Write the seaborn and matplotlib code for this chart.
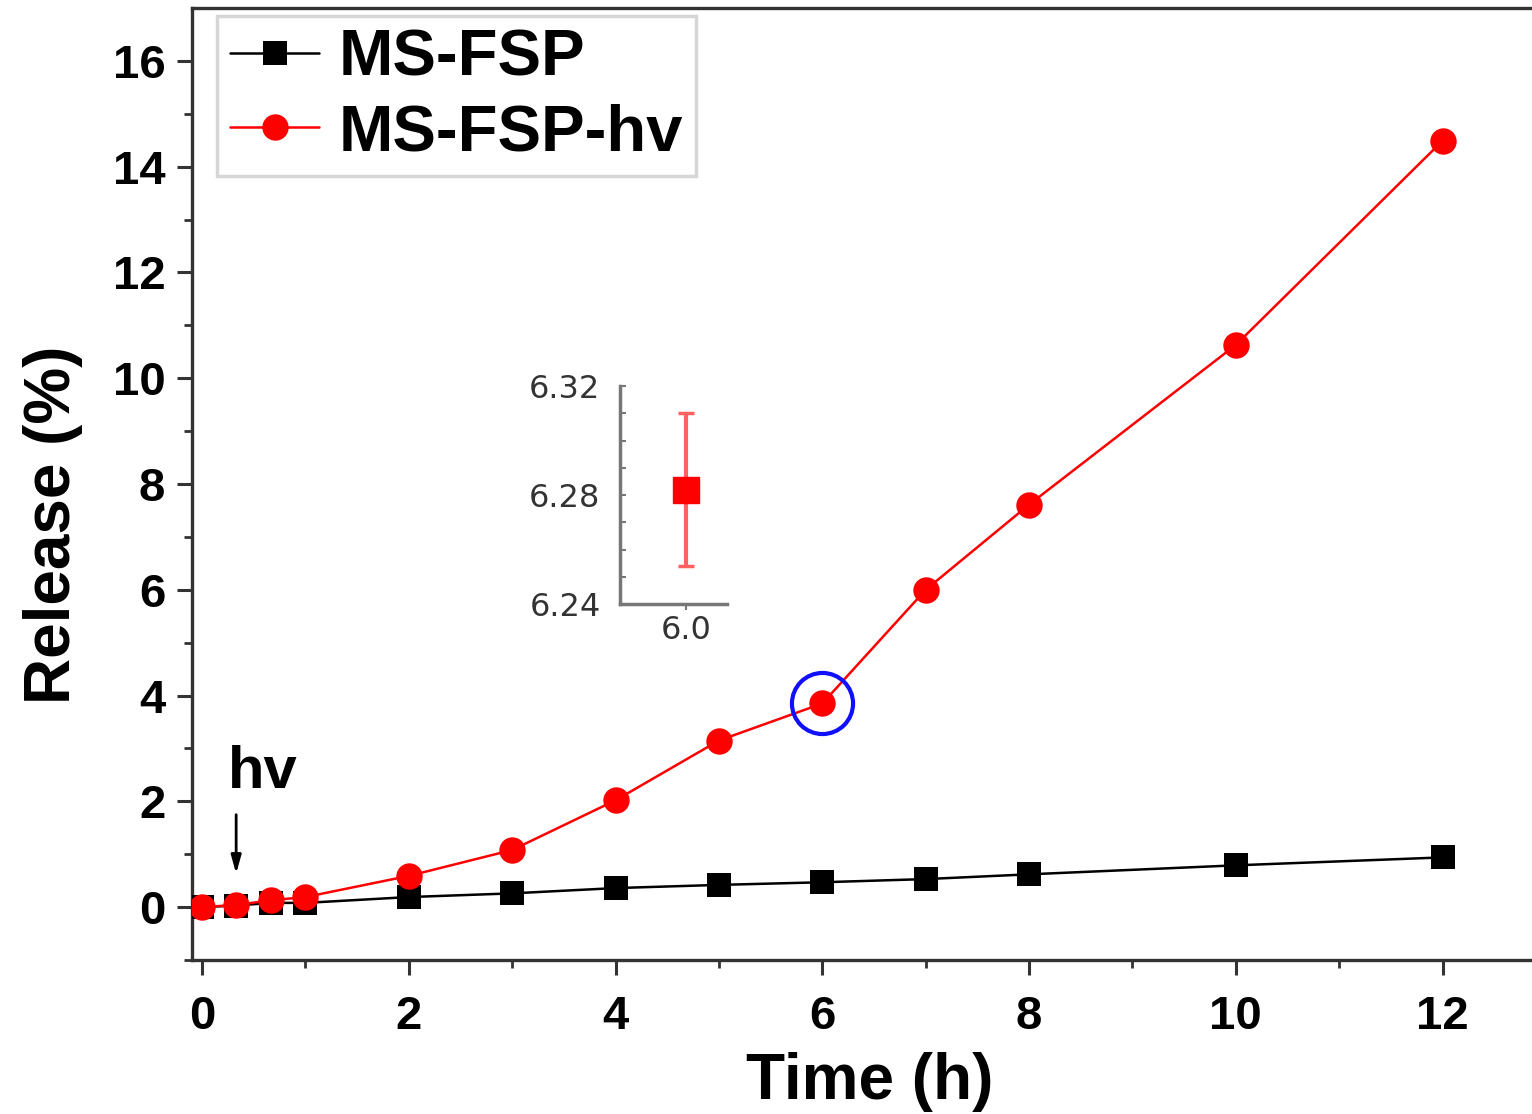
import matplotlib
matplotlib.use("Agg")
import matplotlib.pyplot as plt
import seaborn as sns
import pandas as pd
from matplotlib.ticker import MultipleLocator, FixedLocator

# ---- data ----
time_h = [0, 0.33, 0.67, 1, 2, 3, 4, 5, 6, 7, 8, 10, 12]
ms_fsp = [0.0, 0.03, 0.08, 0.08, 0.19, 0.26, 0.36, 0.42, 0.47, 0.53, 0.62, 0.79, 0.94]
ms_fsp_hv = [0.0, 0.04, 0.13, 0.19, 0.59, 1.08, 2.02, 3.15, 3.85, 6.0, 7.61, 10.63, 14.49]
inset_x = [6.0]
inset_y = [6.282]
inset_err = [0.028]
highlight_x = [6]
highlight_y = [3.85]

sns.set_theme(style="ticks")
plt.rcParams['font.family'] = ['Liberation Sans', 'DejaVu Sans']
plt.rcParams['text.color'] = 'black'
plt.rcParams['axes.labelcolor'] = 'black'

fig = plt.figure(figsize=(15.32, 11.14), dpi=100)
W, H = 1532, 1114
x0, x1 = 191.7, 1546
ax = fig.add_axes([x0 / W, 1 - 960 / H, (x1 - x0) / W, (960 - 8) / H])

df = pd.DataFrame({"t": time_h, "a": ms_fsp, "b": ms_fsp_hv})
sns.lineplot(data=df, x="t", y="a", ax=ax, color="black", marker="s", markersize=17,
             markeredgewidth=0, linewidth=1.8, label="MS-FSP", zorder=3)
sns.lineplot(data=df, x="t", y="b", ax=ax, color="#ff0000", marker="o", markersize=19,
             markeredgewidth=0, linewidth=1.8, label="MS-FSP-hv", zorder=4)
ax.plot(highlight_x, highlight_y, marker="o", markersize=44, mfc="none", mec="#1010ff",
        mew=3, linestyle="none", zorder=5)

ax.set_xlim(-0.1, 13)
ax.set_ylim(-1, 17)
ax.xaxis.set_major_locator(FixedLocator([0, 2, 4, 6, 8, 10, 12]))
ax.xaxis.set_minor_locator(FixedLocator([1, 3, 5, 7, 9, 11]))
ax.yaxis.set_major_locator(FixedLocator([0, 2, 4, 6, 8, 10, 12, 14, 16]))
ax.yaxis.set_minor_locator(FixedLocator([-1, 1, 3, 5, 7, 9, 11, 13, 15]))
ax.tick_params(which="major", direction="out", length=11, width=2.2, color="#333333",
               labelsize=34, labelcolor="black")
ax.tick_params(axis="x", which="major", pad=14)
ax.tick_params(axis="y", which="major", pad=8)
ax.tick_params(which="minor", direction="out", length=6, width=2, color="#333333")
for lab in ax.get_xticklabels() + ax.get_yticklabels():
    lab.set_fontweight("bold")
for s in ["left", "bottom", "top"]:
    ax.spines[s].set_linewidth(2.4)
    ax.spines[s].set_color("#333333")
ax.spines["right"].set_visible(False)

ax.set_xlabel("Time (h)", fontsize=46, fontweight="bold")
ax.set_ylabel("Release (%)", fontsize=46, fontweight="bold")
ax.xaxis.set_label_coords((870 - x0) / (x1 - x0), -0.097)
ax.yaxis.set_label_coords(-0.08, 0.457)

leg = ax.legend(loc="upper left", bbox_to_anchor=(0.019, 0.992),
                prop={"weight": "bold", "size": 47}, frameon=True, fancybox=False,
                handlelength=1.35, handletextpad=0.3, borderpad=0.2, labelspacing=0.22,
                borderaxespad=0)
leg.get_frame().set_edgecolor("#cccccc")
leg.get_frame().set_linewidth(2.5)

ax.text(0.25, 2.25, "hv", fontsize=43, fontweight="bold", ha="left", va="baseline")
ax.annotate("", xy=(0.33, 0.58), xytext=(0.33, 1.8),
            arrowprops=dict(arrowstyle="-|>,head_width=0.25,head_length=0.9",
                            color="black", lw=2))

# ---- inset ----
ia = fig.add_axes([620 / W, 1 - 604 / H, 107 / W, 218 / H])
ia.errorbar(inset_x, inset_y, yerr=inset_err, fmt="s", color="#ff0000", markersize=19,
            ecolor="#ff6060", elinewidth=3, capsize=6, capthick=2.5)
ia.set_xlim(5.383, 6.383)
ia.set_ylim(6.24, 6.32)
ia.xaxis.set_major_locator(FixedLocator([6.0]))
ia.set_xticklabels(["6.0"])
ia.yaxis.set_major_locator(FixedLocator([6.24, 6.28, 6.32]))
ia.yaxis.set_minor_locator(MultipleLocator(0.01))
ia.set_yticklabels(["6.24", "6.28", "6.32"])
ia.tick_params(axis="y", which="both", direction="in", length=4, width=1.5, color="#777777",
               labelsize=23, labelcolor="#333333", pad=14)
ia.tick_params(axis="x", which="both", direction="out", length=4, width=1.5, color="#777777",
               labelsize=23, labelcolor="#333333", pad=4)
for lab in ia.get_xticklabels() + ia.get_yticklabels():
    lab.set_fontfamily(["DejaVu Sans"])
for s in ["top", "right"]:
    ia.spines[s].set_visible(False)
for s in ["left", "bottom"]:
    ia.spines[s].set_color("#777777")
    ia.spines[s].set_linewidth(2.5)
ia.patch.set_alpha(0)

fig.savefig("out.png", dpi=100)
